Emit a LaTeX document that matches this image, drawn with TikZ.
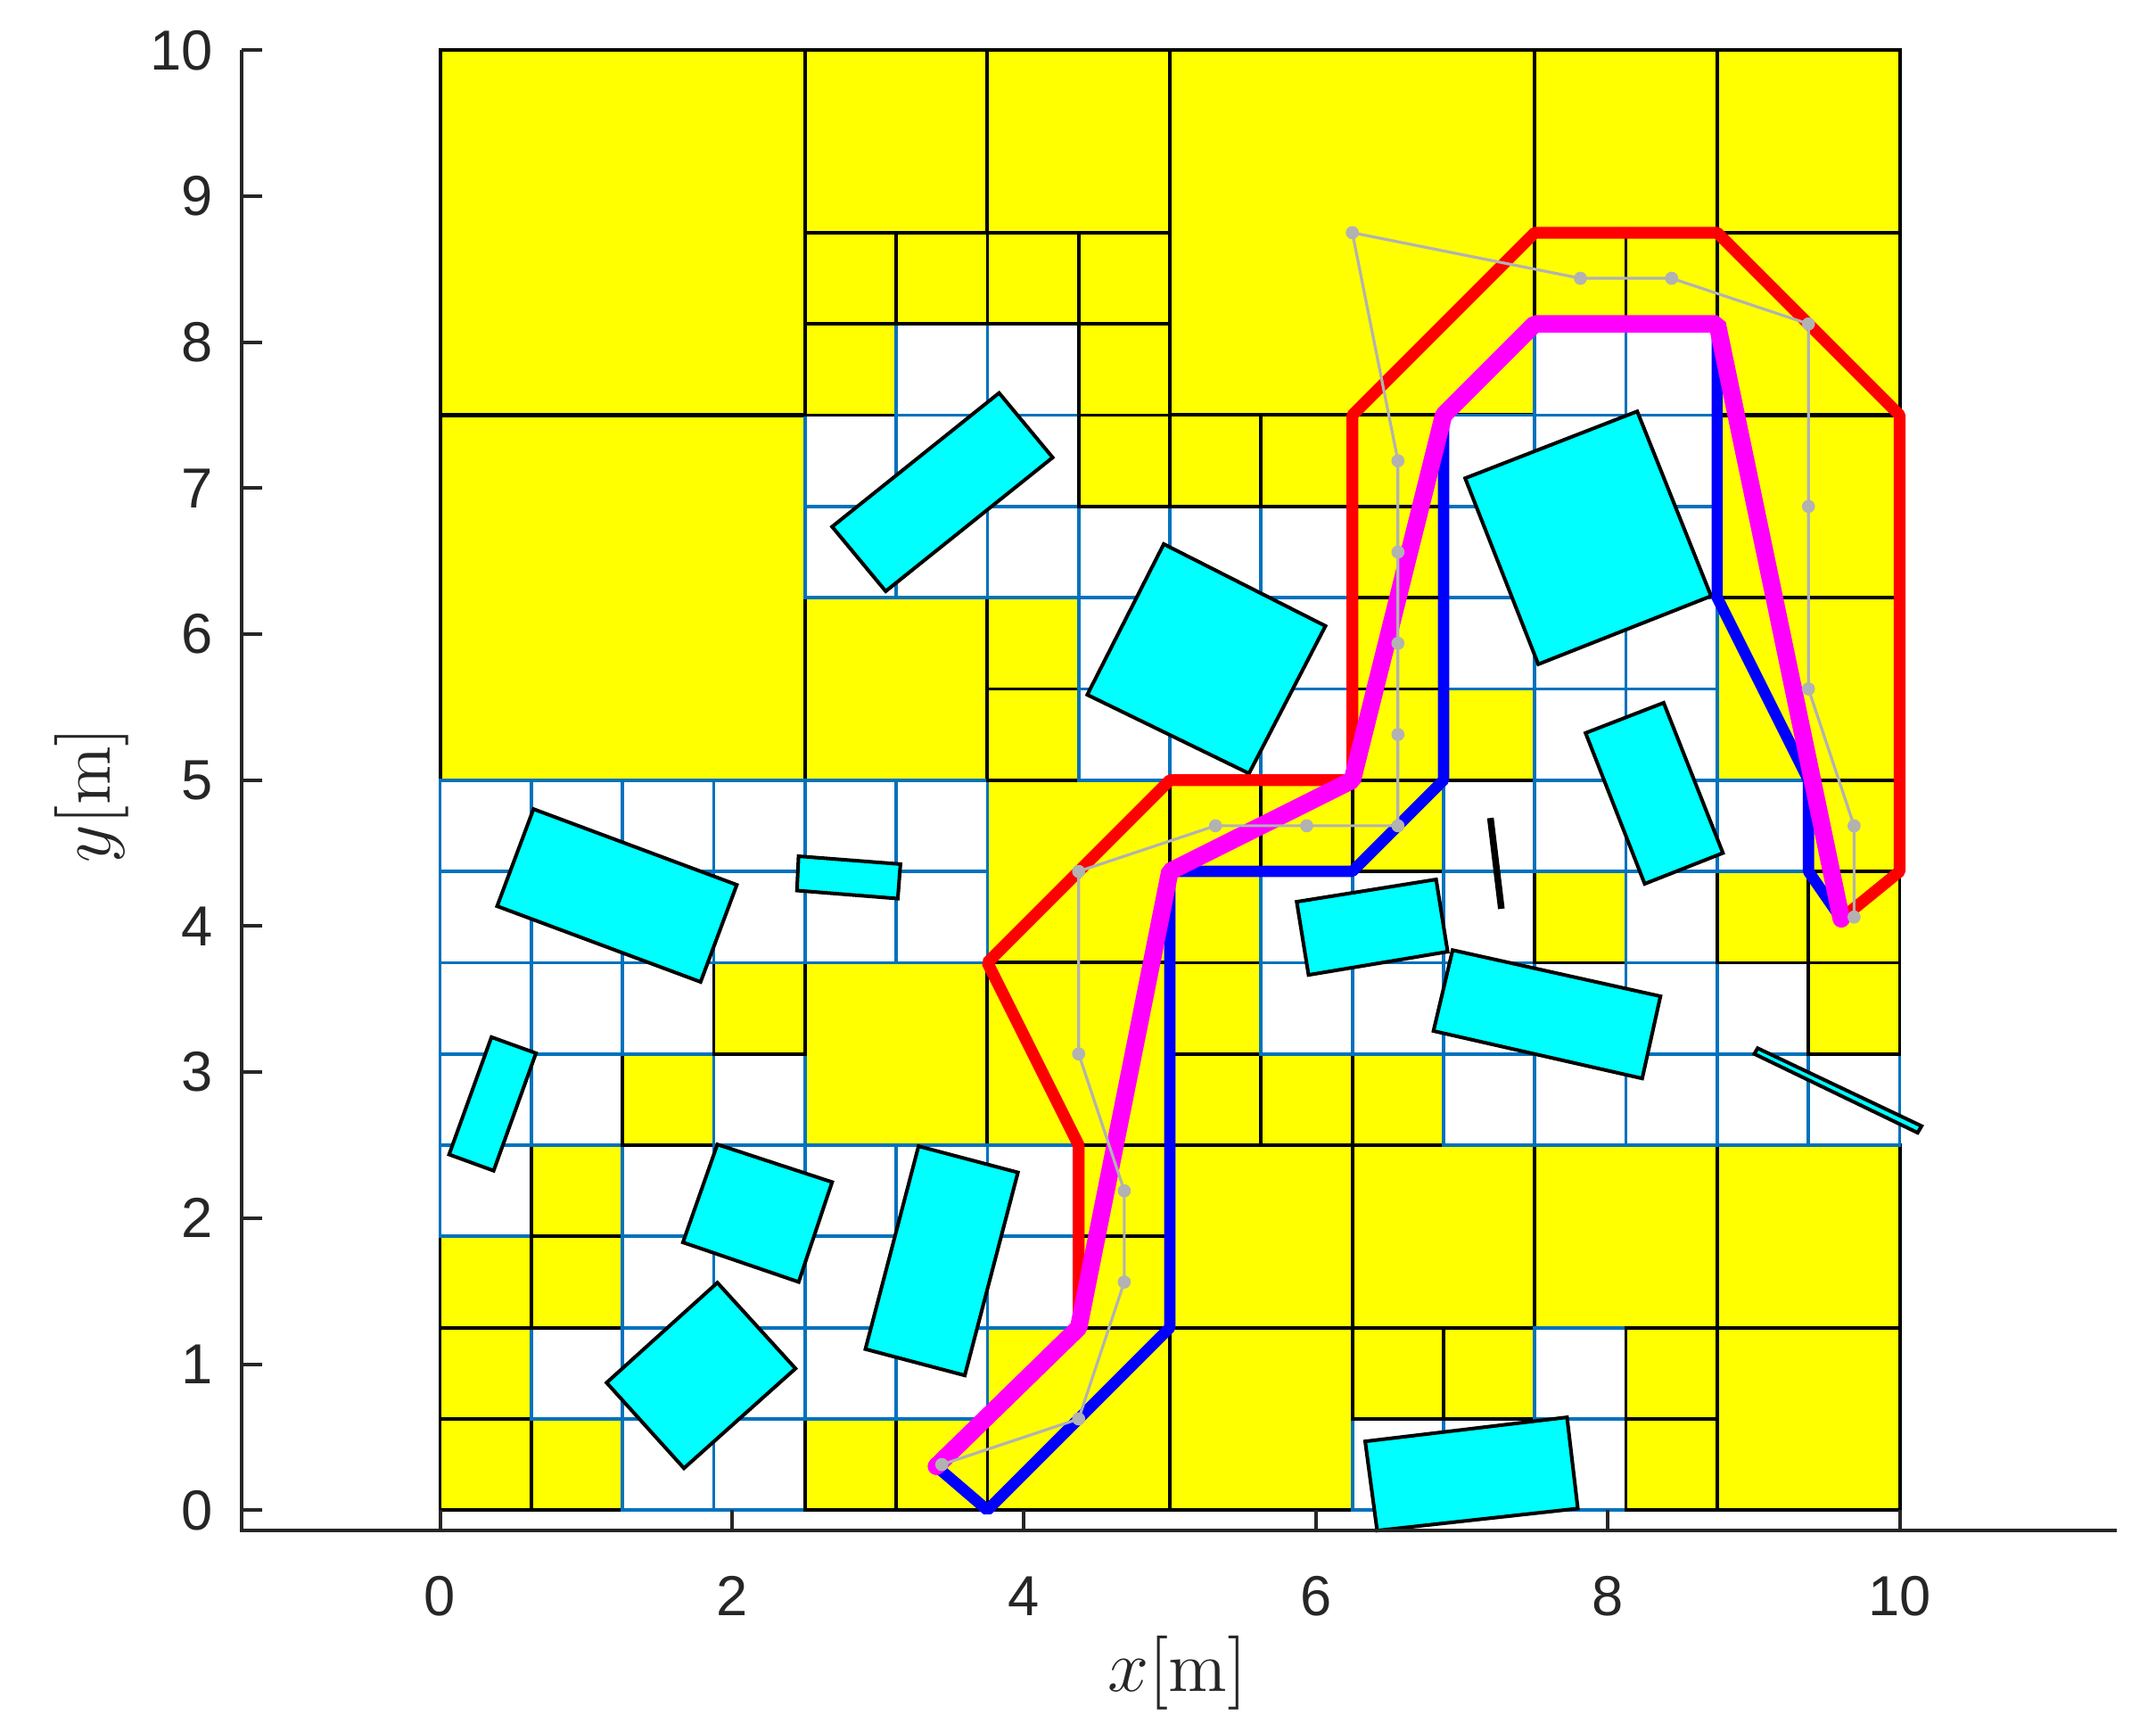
\documentclass[tikz,border=0pt]{standalone}
\usepackage{fontspec}
\newfontfamily\tickfont{Liberation Sans}
\definecolor{mblue}{rgb}{0,0.447,0.741}
\definecolor{axgray}{rgb}{0.15,0.15,0.15}
\definecolor{pgray}{rgb}{0.7,0.7,0.7}
\definecolor{cyanC}{rgb}{0,1,1}
\definecolor{yelC}{rgb}{1,1,0}
\definecolor{magC}{rgb}{1,0,1}
\definecolor{redC}{rgb}{1,0,0}
\definecolor{bluC}{rgb}{0,0,1}
\definecolor{fY}{rgb}{1,1,0}
\definecolor{dY}{rgb}{0,0,0}
\definecolor{fW}{rgb}{1,1,1}
\definecolor{dW}{rgb}{0,0.447,0.741}
\begin{document}
\begin{tikzpicture}[
  bigcell/.style={fill=yelC, draw=black, line width=0.7pt},
  obst/.style={fill=cyanC, draw=black, line width=0.7pt, line join=miter},
  pathline/.style={line join=bevel, line cap=round},
  axisline/.style={draw=axgray, line width=0.7pt},
  ticklab/.style={inner sep=0pt, text=axgray, font=\tickfont\fontsize{11}{13}\selectfont},
  axlab/.style={inner sep=0pt, text=axgray, font=\fontsize{14}{16}\selectfont}
]
\useasboundingbox (-3.015,-1.519) rectangle (11.756,10.344);

% ---- quadtree cells: large free cells
\foreach \x/\y in {0/7.5, 0/5, 5/7.5}
  \draw[bigcell] (\x,\y) rectangle ++(2.5,2.5);
\foreach \x/\y in {2.5/8.75, 3.75/8.75, 2.5/5, 7.5/8.75, 8.75/8.75, 8.75/7.5, 8.75/6.25, 8.75/5,
                   3.75/3.75, 2.5/2.5, 3.75/2.5, 5/1.25, 6.25/1.25, 5/0, 3.75/0, 7.5/1.25, 8.75/1.25, 8.75/0}
  \draw[bigcell] (\x,\y) rectangle ++(1.25,1.25);

% ---- finest cells (Y = free, W = mixed), row by row
\foreach \x/\y/\k in {
  0/0/Y, 0.625/0/Y, 1.25/0/W, 1.875/0/W, 2.5/0/Y, 3.125/0/Y, 6.25/0/W, 6.875/0/W, 7.5/0/W, 8.125/0/Y,
  0/0.625/Y, 0.625/0.625/W, 1.25/0.625/W, 1.875/0.625/W, 2.5/0.625/W, 3.125/0.625/W, 6.25/0.625/Y, 6.875/0.625/Y, 7.5/0.625/W, 8.125/0.625/Y,
  0/1.25/Y, 0.625/1.25/Y, 1.25/1.25/W, 1.875/1.25/W, 2.5/1.25/W, 3.125/1.25/W, 3.75/1.25/W, 4.375/1.25/Y,
  0/1.875/W, 0.625/1.875/Y, 1.25/1.875/W, 1.875/1.875/W, 2.5/1.875/W, 3.125/1.875/W, 3.75/1.875/W, 4.375/1.875/Y,
  0/2.5/W, 0.625/2.5/W, 1.25/2.5/Y, 1.875/2.5/W, 5/2.5/Y, 5.625/2.5/Y, 6.25/2.5/Y, 6.875/2.5/W, 7.5/2.5/W, 8.125/2.5/W, 8.75/2.5/W, 9.375/2.5/W,
  0/3.125/W, 0.625/3.125/W, 1.25/3.125/W, 1.875/3.125/Y, 5/3.125/Y, 5.625/3.125/W, 6.25/3.125/W, 6.875/3.125/W, 7.5/3.125/W, 8.125/3.125/W, 8.75/3.125/W, 9.375/3.125/Y,
  0/3.75/W, 0.625/3.75/W, 1.25/3.75/W, 1.875/3.75/W, 2.5/3.75/W, 3.125/3.75/W, 5/3.75/Y, 5.625/3.75/W, 6.25/3.75/W, 6.875/3.75/W, 7.5/3.75/Y, 8.125/3.75/W, 8.75/3.75/Y, 9.375/3.75/Y,
  0/4.375/W, 0.625/4.375/W, 1.25/4.375/W, 1.875/4.375/W, 2.5/4.375/W, 3.125/4.375/W, 5/4.375/Y, 5.625/4.375/Y, 6.25/4.375/Y, 6.875/4.375/W, 7.5/4.375/W, 8.125/4.375/W, 8.75/4.375/W, 9.375/4.375/Y,
  3.75/5/Y, 4.375/5/W, 5/5/W, 5.625/5/W, 6.25/5/Y, 6.875/5/Y, 7.5/5/W, 8.125/5/W,
  3.75/5.625/Y, 4.375/5.625/W, 5/5.625/W, 5.625/5.625/W, 6.25/5.625/Y, 6.875/5.625/W, 7.5/5.625/W, 8.125/5.625/W,
  2.5/6.25/W, 3.125/6.25/W, 3.75/6.25/W, 4.375/6.25/W, 5/6.25/W, 5.625/6.25/W, 6.25/6.25/Y, 6.875/6.25/W, 7.5/6.25/W, 8.125/6.25/W,
  2.5/6.875/W, 3.125/6.875/W, 3.75/6.875/W, 4.375/6.875/Y, 5/6.875/Y, 5.625/6.875/Y, 6.25/6.875/Y, 6.875/6.875/W, 7.5/6.875/W, 8.125/6.875/W,
  2.5/7.5/Y, 3.125/7.5/W, 3.75/7.5/W, 4.375/7.5/Y, 7.5/7.5/W, 8.125/7.5/W,
  2.5/8.125/Y, 3.125/8.125/Y, 3.75/8.125/Y, 4.375/8.125/Y, 7.5/8.125/Y, 8.125/8.125/Y}
  \draw[fill=f\k, draw=d\k, line width=0.65pt] (\x,\y) rectangle ++(0.625,0.625);

% ---- obstacles
\draw[obst] (2.686,6.736) -- (3.830,7.652) -- (4.197,7.210) -- (3.053,6.294) -- cycle;
\draw[obst] (4.958,6.617) -- (6.066,6.056) -- (5.542,5.046) -- (4.434,5.585) -- cycle;
\draw[obst] (7.023,7.068) -- (8.202,7.526) -- (8.708,6.261) -- (7.524,5.794) -- cycle;
\draw[obst] (7.848,5.323) -- (8.383,5.530) -- (8.789,4.501) -- (8.253,4.290) -- cycle;
\draw[black, line width=1.3pt] (7.196,4.741) -- (7.271,4.119);
\draw[obst] (5.869,4.167) -- (6.824,4.320) -- (6.903,3.825) -- (5.950,3.666) -- cycle;
\draw[obst] (6.937,3.836) -- (8.361,3.520) -- (8.236,2.957) -- (6.806,3.282) -- cycle;
\draw[obst] (9.004,3.125) -- (9.027,3.164) -- (10.150,2.631) -- (10.123,2.585) -- cycle;
\draw[obst] (6.338,0.471) -- (7.721,0.636) -- (7.795,0.011) -- (6.420,-0.140) -- cycle;
\draw[obst] (3.278,2.493) -- (3.959,2.313) -- (3.595,0.923) -- (2.914,1.103) -- cycle;
\draw[obst] (1.900,2.505) -- (2.686,2.247) -- (2.457,1.563) -- (1.664,1.834) -- cycle;
\draw[obst] (1.900,1.558) -- (2.435,0.970) -- (1.671,0.287) -- (1.141,0.873) -- cycle;
\draw[obst] (0.352,3.240) -- (0.657,3.130) -- (0.367,2.325) -- (0.062,2.436) -- cycle;
\draw[obst] (0.640,4.802) -- (2.033,4.283) -- (1.785,3.618) -- (0.391,4.137) -- cycle;
\draw[obst] (2.456,4.479) -- (3.154,4.425) -- (3.136,4.189) -- (2.445,4.244) -- cycle;

% ---- paths
\coordinate (S) at (3.4,0.3);
\coordinate (G) at (9.6,4.05);
\draw[redC, line width=2.3pt, pathline] (S) -- (4.375,1.25) -- (4.375,2.5) -- (3.75,3.75) -- (5,5) -- (6.25,5)
  -- (6.25,7.5) -- (7.5,8.75) -- (8.75,8.75) -- (10,7.5) -- (10,4.375) -- (G);
\draw[bluC, line width=2.2pt, pathline] (S) -- (3.75,0) -- (5,1.25) -- (5,4.375) -- (6.25,4.375) -- (6.875,5)
  -- (6.875,7.5) -- (7.5,8.125) -- (8.75,8.125) -- (8.75,6.25) -- (9.375,5) -- (9.375,4.375) -- (G);
\draw[magC, line width=3.4pt, pathline] (S) -- (4.375,1.25) -- (5,4.375) -- (6.25,5) -- (6.875,7.5)
  -- (7.5,8.125) -- (8.75,8.125) -- (G);
\draw[pgray, line width=0.55pt, line join=round] (3.4375,0.3125) -- (4.375,0.625) -- (4.6875,1.5625) -- (4.6875,2.1875)
  -- (4.375,3.125) -- (4.375,4.375) -- (5.3125,4.6875) -- (5.9375,4.6875) -- (6.5625,4.6875) -- (6.5625,5.3125)
  -- (6.5625,5.9375) -- (6.5625,6.5625) -- (6.5625,7.1875) -- (6.25,8.75) -- (7.8125,8.4375) -- (8.4375,8.4375)
  -- (9.375,8.125) -- (9.375,6.875) -- (9.375,5.625) -- (9.6875,4.6875) -- (9.6875,4.0625);
\foreach \x/\y in {3.4375/0.3125, 4.375/0.625, 4.6875/1.5625, 4.6875/2.1875, 4.375/3.125, 4.375/4.375,
  5.3125/4.6875, 5.9375/4.6875, 6.5625/4.6875, 6.5625/5.3125, 6.5625/5.9375, 6.5625/6.5625, 6.5625/7.1875,
  6.25/8.75, 7.8125/8.4375, 8.4375/8.4375, 9.375/8.125, 9.375/6.875, 9.375/5.625, 9.6875/4.6875, 9.6875/4.0625}
  \fill[pgray] (\x,\y) circle (0.045);

% ---- axes
\draw[axisline] (-1.361,10) -- (-1.361,-0.140) -- (11.49,-0.140);
\foreach \y in {0,...,10} {
  \draw[axisline] (-1.361,\y) -- ++(0.142,0);
  \node[ticklab, anchor=east] (yt\y) at (-1.549,\y) {\y};
}
\foreach \x in {0,2,...,10} {
  \draw[axisline] (\x,-0.140) -- ++(0,0.142);
  \node[ticklab, anchor=north] (xt\x) at (\x,-0.448) {\x};
}
\node[axlab, anchor=base] (xlab) at (5.052,-1.2425) {$x[\mathrm{m}]$};
\node[axlab, anchor=base, rotate=90] (ylab) at (-2.261,4.899) {$y[\mathrm{m}]$};
\end{tikzpicture}
\end{document}
